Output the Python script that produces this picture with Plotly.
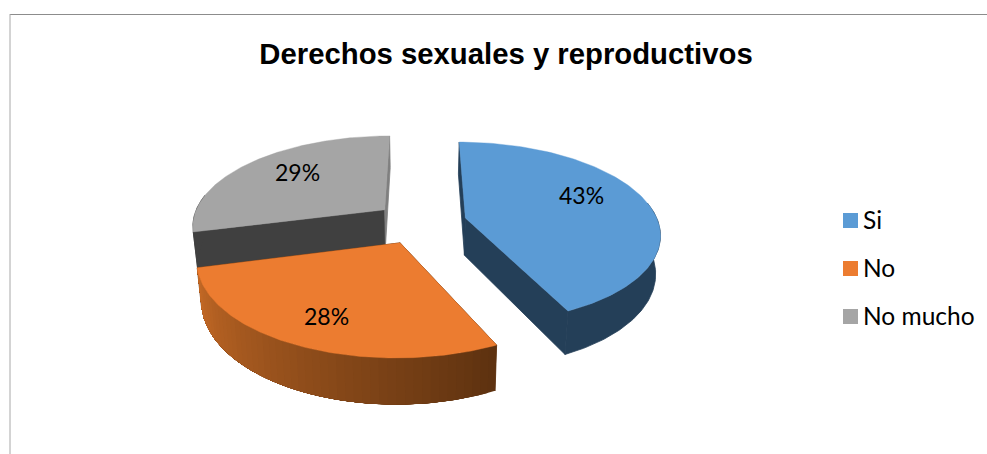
import numpy as np
import plotly.graph_objects as go

# values as printed on the chart
labels = ["Si", "No", "No mucho"]
values = [43, 28, 29]
top_colors = ["#5b9bd5", "#ec7c30", "#a5a5a5"]
wall_colors = ["#243f58", "#c56a26", "#404040"]
# colours of the flat cut faces, start side and end side of each slice
cut_colors = [("#243f58", "#243f58"), ("#5e3210", "#5e3210"), ("#404040", "#7f7f7f")]

# fake 3d camera, all in pixels
CX, CY = 420.5, 222.7
RX, RY = 193.0, 89.5
PERSP = 0.16
EXPLODE = 0.24
DEPTH = 37.5
SHRINK = 0.02

# label anchors on the picture
label_xy = [(581, 195), (326, 316), (297, 172)]
legend_x = 850.5
legend_y = [220.5, 268.5, 316.5]


def project(theta, r, off, down=0.0):
    """theta in radians, clockwise from the back of the pie. down=1 is the bottom face."""
    wx = off[0] + r * np.sin(theta)
    wy = off[1] - r * np.cos(theta)
    s = 1.0 / (1.0 - PERSP * wy)
    x = CX + RX * wx * s * (1 - SHRINK * down)
    y = CY + RY * wy * s + DEPTH * s * down
    return x, y


def poly(xs, ys, color, width=0.0):
    return go.Scatter(x=xs, y=ys, mode="lines", fill="toself", fillcolor=color,
                      line=dict(color=color, width=width), hoverinfo="skip", showlegend=False)


def band(a, b, off):
    # outer wall between two angles
    th = np.linspace(a, b, 90)
    tx, ty = project(th, 1, off)
    bx, by = project(th[::-1], 1, off, 1)
    return [*tx, *bx, tx[0]], [*ty, *by, ty[0]]


def mix(c1, c2, t):
    a = [int(c1[i:i + 2], 16) for i in (1, 3, 5)]
    b = [int(c2[i:i + 2], 16) for i in (1, 3, 5)]
    return "rgb(%d,%d,%d)" % tuple(round(a[i] + (b[i] - a[i]) * t) for i in range(3))


fig = go.Figure()

total = sum(values)
edges = np.concatenate([[0], np.cumsum(values)]) / total * 2 * np.pi
slices = []
for i in range(len(values)):
    t0, t1 = edges[i], edges[i + 1]
    mid = (t0 + t1) / 2
    off = (EXPLODE * np.sin(mid), -EXPLODE * np.cos(mid))
    slices.append((i, t0, t1, off))

# painter order: back slice first, blue slice last
for i, t0, t1, off in [slices[2], slices[1], slices[0]]:
    # flat walls along the two cuts
    for t, col in zip((t0, t1), cut_colors[i]):
        ax, ay = project(t, 0, off)
        bx, by = project(t, 1, off)
        cx, cy = project(t, 1, off, 1)
        dx, dy = project(t, 0, off, 1)
        fig.add_trace(poly([ax, bx, cx, dx, ax], [ay, by, cy, dy, ay], col, width=0.8))

    # outer wall; the orange one carries a gradient, each step painted over the last
    if i == 1:
        n = 48
        th = np.linspace(t0, t1, n + 1)
        for j in range(n):
            xs, ys = band(th[j], t1, off)
            fig.add_trace(poly(xs, ys, mix("#5e3210", "#c56a26", j / (n - 1))))
    else:
        # only the front half of the rim can show, the back half would bleed round the top
        a = max(t0, np.radians(80))
        b = min(t1, np.radians(280))
        if a < b:
            xs, ys = band(a, b, off)
            fig.add_trace(poly(xs, ys, wall_colors[i], width=0.8))

    # top face
    rim = np.linspace(t0, t1, 120)
    rx, ry = project(rim, 1, off)
    ax, ay = project(t0, 0, off)
    fig.add_trace(poly([ax, *rx, ax], [ay, *ry, ay], top_colors[i], width=0.4))

# legend, square and text placed by hand since the native one keeps too wide a gap
for name, col, ly in zip(labels, top_colors, legend_y):
    fig.add_trace(go.Scatter(x=[legend_x], y=[ly], mode="markers", hoverinfo="skip", showlegend=False,
                             marker=dict(symbol="square", size=15, color=col)))
    fig.add_annotation(x=861, y=ly - 1, text=name, showarrow=False, xanchor="left",
                       font=dict(family="Lato", size=24.5, color="#000000"))

for v, (lx, ly) in zip(values, label_xy):
    fig.add_annotation(x=lx, y=ly, text=f"{v}%", showarrow=False,
                       font=dict(family="Lato", size=23, color="#000000"))

# chart frame, cut off by the screenshot on the right and at the bottom
fig.add_shape(type="line", x0=10, x1=987, y0=14.5, y1=14.5, line=dict(color="#8c8c8c", width=1))
fig.add_shape(type="line", x0=10, x1=10, y0=14, y1=454, line=dict(color="#a8a8a8", width=1))

fig.update_layout(
    width=987,
    height=454,
    showlegend=False,
    title=dict(text="<b>Derechos sexuales y reproductivos</b>", x=506 / 987, xanchor="center",
               y=1 - 54 / 454, yanchor="middle",
               font=dict(family="Liberation Sans", size=29.3, color="#000000")),
    margin=dict(l=0, r=0, t=0, b=0),
    paper_bgcolor="#ffffff",
    plot_bgcolor="#ffffff",
    xaxis=dict(range=[0, 987], visible=False, fixedrange=True),
    yaxis=dict(range=[454, 0], visible=False, fixedrange=True),
)

# the page's default body margin would push the chart 8px in
fig.write_html("out.html", config={"displayModeBar": False},
               post_script="document.body.style.margin='0';document.body.style.overflow='hidden';")
